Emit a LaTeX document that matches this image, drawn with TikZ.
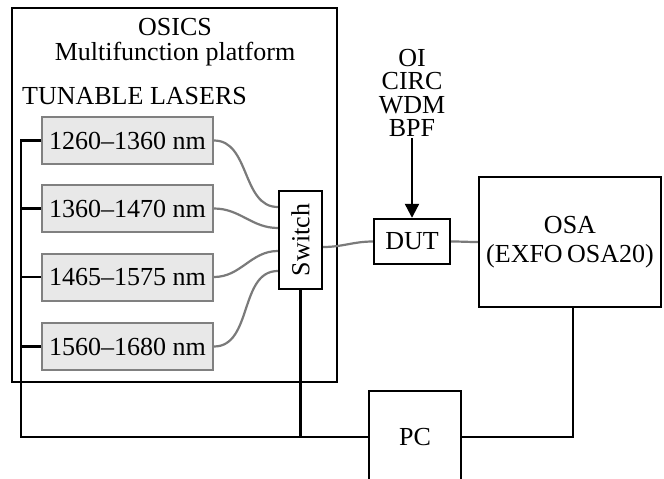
\documentclass[tikz,border=0pt]{standalone}
\usepackage{fontspec}
\setmainfont{Liberation Serif}
\usepackage{graphicx}
\usetikzlibrary{arrows.meta}
\definecolor{LaserFill}{HTML}{E8E8E8}
\definecolor{LaserLine}{HTML}{808080}
\definecolor{FiberGray}{HTML}{7A7A7A}

\begin{document}
\begin{tikzpicture}[x=1pt,y=-1pt,
  every node/.style={font=\fontsize{26}{23.5}\selectfont},
  box/.style={draw,line width=2.4pt,inner sep=0pt},
  laser/.style={draw=LaserLine,fill=LaserFill,line width=2pt,minimum width=171pt,minimum height=47pt,inner sep=0pt},
  fiber/.style={FiberGray,line width=2.2pt},
  wire/.style={black,line width=2.2pt}]
\useasboundingbox (0,0) rectangle (664,479);
% OSICS frame
\node[box,minimum width=325pt,minimum height=374pt] (osics) at (174.5,195) {};
\node[align=center,font=\fontsize{26}{25}\selectfont] (osicstitle) at (175,42) {OSICS\\Multifunction platform};
\node[anchor=west,inner sep=2pt] (tunable) at (20,96) {TUNABLE LASERS};
% lasers
\node[laser] (lasA) at (127.5,140.5) {1260--1360 nm};
\node[laser] (lasB) at (127.5,208.5) {1360--1470 nm};
\node[laser] (lasC) at (127.5,277) {1465--1575 nm};
\node[laser] (lasD) at (127.5,346.5) {1560--1680 nm};
\node[box,fill=white,minimum width=43pt,minimum height=98pt] (sw) at (300.5,240) {\rotatebox{90}{Switch}};
% rest of the set-up
\node[box,minimum width=76pt,minimum height=45pt] (dut) at (412,241.5) {DUT};
\node[box,align=center,minimum width=182pt,minimum height=130pt,font=\fontsize{26}{29}\selectfont] (osa) at (570,242) {OSA\\(EXFO\,OSA20)};
\node[box,minimum width=92pt,minimum height=92pt] (pc) at (415,437) {PC};
\node[align=center,anchor=south,inner sep=1pt] (comps) at (412,138) {OI\\CIRC\\WDM\\BPF};
% fibres
\draw[fiber] (lasA.east) to[out=0,in=180] (sw.west |- 0,207);
\draw[fiber] (lasB.east) to[out=0,in=180] (sw.west |- 0,228);
\draw[fiber] (lasC.east) to[out=0,in=180] (sw.west |- 0,251);
\draw[fiber] (lasD.east) to[out=0,in=180] (sw.west |- 0,271);
\draw[fiber] (sw.east |- 0,247) to[out=0,in=180] (dut.west);
\draw[fiber] (dut.east) to[out=0,in=180] (osa.west);
% control wires
\draw[wire] (lasA.west) -- ++(-20,0) |- (pc.west);
\draw[wire] (lasB.west) -- ++(-20,0);
\draw[wire] (lasC.west) -- ++(-20,0);
\draw[wire] (lasD.west) -- ++(-20,0);
\draw[wire] (sw.south) -- (sw.south |- pc.west);
\draw[wire] ([xshift=3pt]osa.south) |- (pc.east);
\draw[wire,-{Triangle[length=14pt,width=14pt]}] (comps.south) -- (dut.north);
\end{tikzpicture}
\end{document}
